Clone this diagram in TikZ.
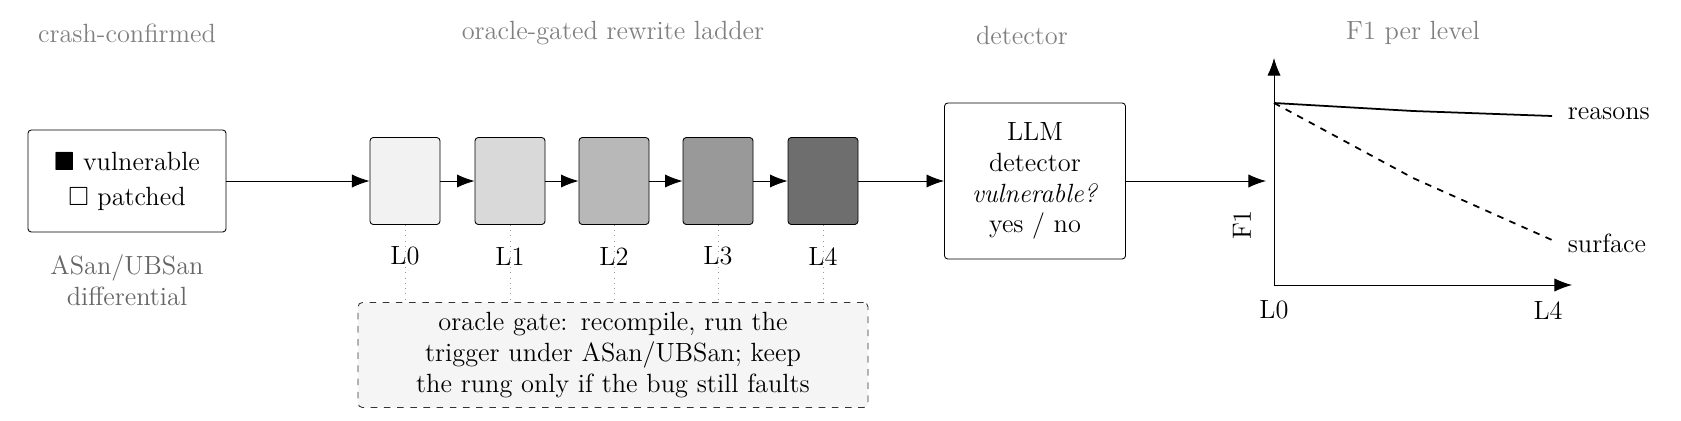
\documentclass[tikz,border=0pt]{standalone}
\usepackage{amssymb, amsmath}
\usetikzlibrary{arrows.meta, calc}

\begin{document}
\begin{tikzpicture}[x=0.016cm, y=-0.016cm]
  \tikzset{title/.style={text=black!50, font=\large},
    rung/.style={draw, rounded corners=1.5pt, minimum width=70*0.016cm,
      minimum height=87*0.016cm, inner sep=0pt},
    flow/.style={-{Latex[length=8pt,width=6pt]}},
    tick/.style={draw=black!40, dotted}
  }
  \useasboundingbox (0,0) rectangle (1681,420);
  % titles
  \node [title] (t1) at (127,33) {crash-confirmed};
  \node [title] (t2) at (613,33) {oracle-gated rewrite ladder};
  \node [title] (t3) at (1022,35) {detector};
  \node [title] (t4) at (1413,33) {F1 per level};
  % input
  \node [draw, rounded corners=1.5pt, minimum width=198*0.016cm,
    minimum height=102*0.016cm, align=center, font=\large] (inp) at (127,181)
    {$\blacksquare$ vulnerable\\[2pt] $\square$ patched};
  \node [text=black!60, align=center, font=\large] (diff) at (127,280) {ASan/UBSan\\differential};
  % rungs
  \foreach \i/\x/\g in {0/405/5, 1/510/15, 2/614/28, 3/718/40, 4/823/57} {
    \node [rung, fill=black!\g] (L\i) at (\x,181) {};
    \node [font=\large] (l\i) at (\x,256) {L\i};
  }
  % gate
  \node [draw=black!80, dashed, rounded corners=2pt, fill=black!4, minimum width=510*0.016cm,
    minimum height=105*0.016cm, align=center, text width=440*0.016cm, font=\large] (gate) at (613,355)
    {oracle gate: recompile, run the trig\-ger under ASan/UBSan; keep the rung only if the bug still faults};
  \foreach \i in {0,...,4} \draw [tick] (L\i.south) -- (L\i.south |- gate.north);
  % detector
  \node [draw, rounded corners=1.5pt, minimum width=181*0.016cm,
    minimum height=156*0.016cm, align=center, font=\large] (det) at (1035,181)
    {LLM\\detector\\\textit{vulnerable?}\\yes / no};
  \draw [flow] (inp) -- (L0);
  \foreach \a/\b in {0/1,1/2,2/3,3/4} \draw [flow] (L\a) -- (L\b);
  \draw [flow] (L4) -- (det);
  \coordinate (plot) at (1266,181);
  \draw [flow] (det) -- (plot);
  % plot
  \coordinate (O) at (1274,285);
  \coordinate (ytop) at (1274,58);
  \coordinate (xend) at (1572,285);
  \draw [flow] (O) -- (ytop);
  \draw [flow] (O) -- (xend);
  \node [font=\large] (x0) at (1274,310) {L0};
  \node [font=\large] (x4) at (1548,310) {L4};
  \node [font=\large, rotate=90] (fy) at (1242,225) {F1};
  \draw [thick] (1274,103) -- (1413,111) -- (1552,116);
  \draw [thick, dashed] (1274,103) -- (1413,178) -- (1552,240);
  \node [font=\large, anchor=west] (rs) at (1560,114) {reasons};
  \node [font=\large, anchor=west] (sf) at (1560,243) {surface};
\end{tikzpicture}
\end{document}
